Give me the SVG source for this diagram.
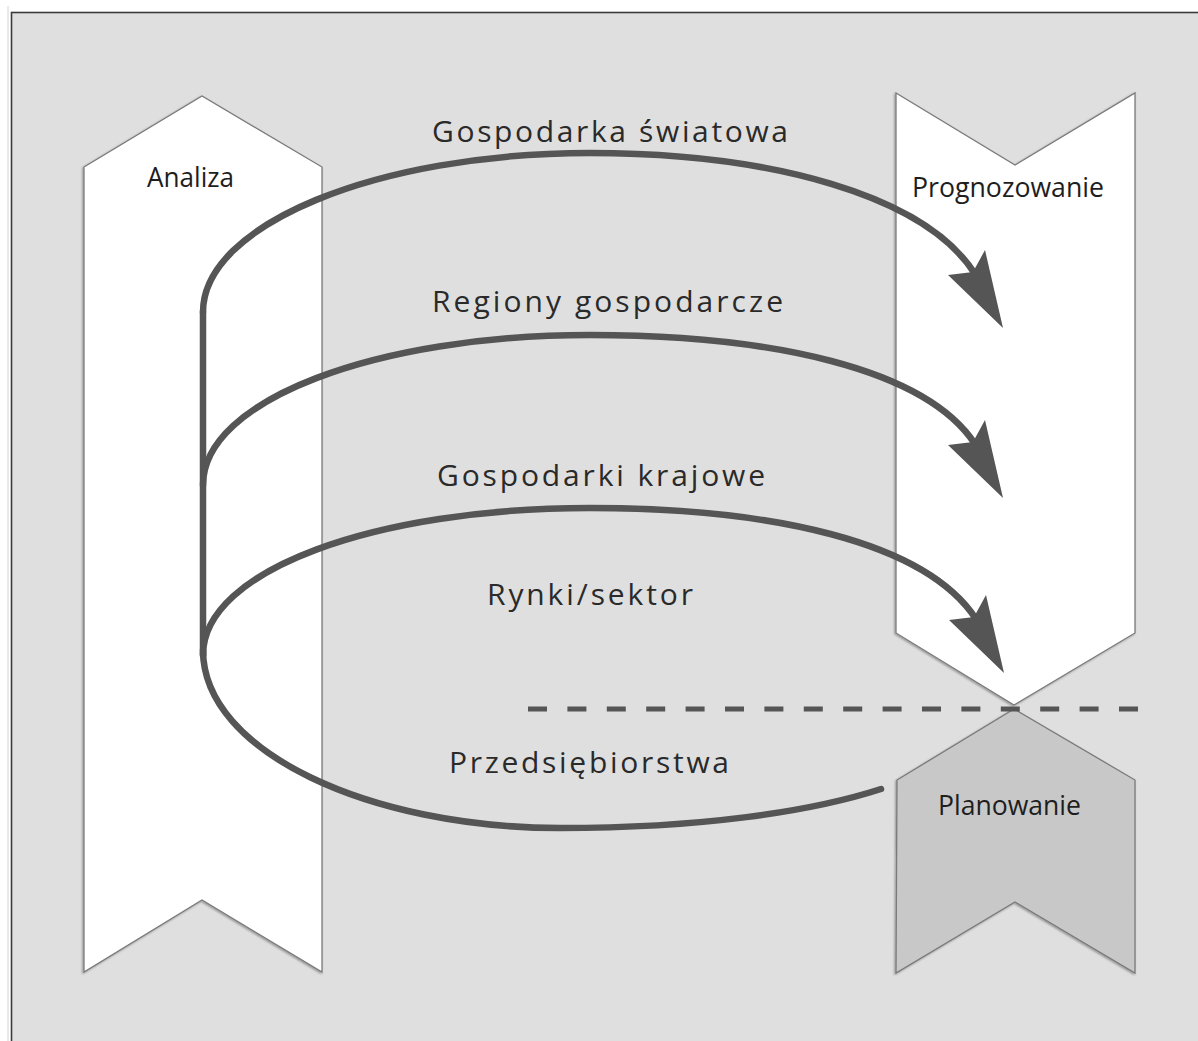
<svg xmlns="http://www.w3.org/2000/svg" xmlns:xlink="http://www.w3.org/1999/xlink" width="1198" height="1041" viewBox="0 0 1198 1041">
  <style>
    .banner { stroke: #7a7a7a; stroke-width: 1.3; stroke-linejoin: miter; filter: url(#edge); }
    .white { fill: #ffffff; }
    .grey { fill: #c8c8c8; }
    .node-label { font-family: "Open Sans", "Noto Sans", sans-serif; font-size: 27px; fill: #1e1e1e; }
    .loop-label { font-family: "Open Sans", "Noto Sans", sans-serif; font-size: 30px; fill: #2a2a2a; }
    .loop { fill: none; stroke: #555555; stroke-width: 6.5; stroke-linecap: round; }
    .head { fill: #555555; }
    .divider { fill: none; stroke: #555555; stroke-width: 5; stroke-dasharray: 19 20.4; }
  </style>
  <defs>
    <filter id="edge" x="-5%" y="-5%" width="110%" height="110%">
      <feDropShadow dx="-1" dy="1" stdDeviation="0.8" flood-color="#000000" flood-opacity="0.35"/>
    </filter>
    <!-- concave arrowhead, tip at the origin -->
    <path id="arrowhead" class="head" d="M0,0 L-55,-53 L-30,-56 L-18,-78 Z"/>
  </defs>

  <!-- page -->
  <rect x="0" y="0" width="1198" height="1041" fill="#ffffff"/>
  <line x1="8" y1="6" x2="8" y2="1041" stroke="#d2d2d2" stroke-width="1"/>
  <rect x="11.5" y="12.5" width="1200" height="1040" fill="#dfdfdf" stroke="#3a3a3a" stroke-width="1.6"/>

  <!-- Analiza -->
  <g id="node-analiza">
    <path class="banner white" d="M84,167 L202,96 L322,167 L322,972 L202,900 L84,972 Z"/>
    <text class="node-label" x="147" y="187" textLength="87" lengthAdjust="spacingAndGlyphs">Analiza</text>
  </g>

  <!-- Prognozowanie -->
  <g id="node-prognozowanie">
    <path class="banner white" d="M896,93 L1015,165 L1135,93 L1135,633 L1014,705 L896,633 Z"/>
    <text class="node-label" x="912" y="197" textLength="192" lengthAdjust="spacingAndGlyphs">Prognozowanie</text>
  </g>

  <!-- Planowanie -->
  <g id="node-planowanie">
    <path class="banner grey" d="M897,780 L1014,709 L1135,780 L1135,973 L1015,902 L896,973 Z"/>
    <text class="node-label" x="938" y="815" textLength="143" lengthAdjust="spacingAndGlyphs">Planowanie</text>
  </g>

  <!-- connectors -->
  <g id="connectors">
    <line class="divider" x1="528" y1="709" x2="1138" y2="709"/>

    <!-- shared spine on the left -->
    <path class="loop" d="M203,312 L203,655"/>

    <!-- Gospodarka światowa -->
    <path class="loop" d="M203,312 C203,225 376,153 590,153 C770,153 925,195 975,274"/>
    <use xlink:href="#arrowhead" href="#arrowhead" transform="translate(1003,328)"/>

    <!-- Regiony gospodarcze -->
    <path class="loop" d="M203,485 C203,400 376,335 590,335 C770,335 925,368 975,444"/>
    <use xlink:href="#arrowhead" href="#arrowhead" transform="translate(1003,498)"/>

    <!-- Gospodarki krajowe -->
    <path class="loop" d="M203,655 C203,570 376,508 590,508 C770,508 925,541 976,619"/>
    <use xlink:href="#arrowhead" href="#arrowhead" transform="translate(1004,673)"/>

    <!-- Przedsiębiorstwa: lower loop ending at Planowanie -->
    <path class="loop" d="M203,650 C203,752 370,828 560,828 C700,828 810,812 881,789"/>
  </g>

  <!-- loop labels -->
  <g id="labels">
    <text class="loop-label" x="432" y="142" textLength="356" lengthAdjust="spacing">Gospodarka światowa</text>
    <text class="loop-label" x="432" y="312" textLength="351" lengthAdjust="spacing">Regiony gospodarcze</text>
    <text class="loop-label" x="437" y="486" textLength="328" lengthAdjust="spacing">Gospodarki krajowe</text>
    <text class="loop-label" x="487" y="605" textLength="206" lengthAdjust="spacing">Rynki/sektor</text>
    <text class="loop-label" x="449" y="773" textLength="280" lengthAdjust="spacing">Przedsiębiorstwa</text>
  </g>
</svg>
